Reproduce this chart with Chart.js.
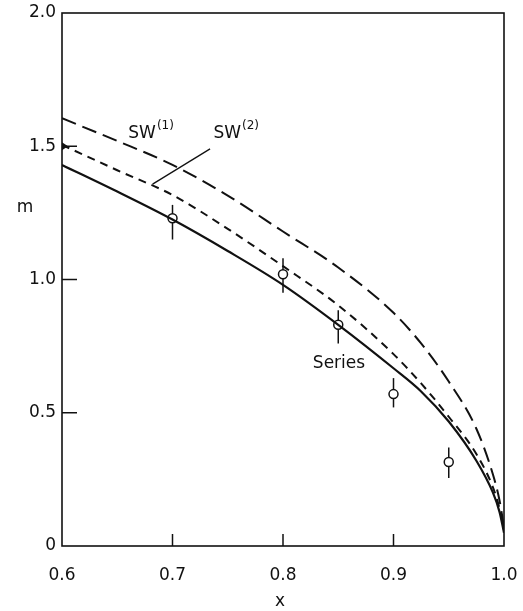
<!DOCTYPE html>
<html>
<head>
<meta charset="utf-8">
<script src="https://cdn.jsdelivr.net/npm/chart.js@4.4.0/dist/chart.umd.min.js"></script>
<style>
  html, body { margin: 0; padding: 0; background: #fff; }
  #wrap { width: 523px; height: 611px; }
</style>
</head>
<body>
<div id="wrap"><canvas id="chart" width="523" height="611"></canvas></div>
<script>
// curves
const xCurve = [0.6, 0.65, 0.7, 0.75, 0.8, 0.85, 0.9, 0.925, 0.95, 0.975, 0.99, 0.996, 1.0];
const seriesM = [1.43, 1.33, 1.225, 1.107, 0.98, 0.83, 0.667, 0.58, 0.467, 0.32, 0.20, 0.127, 0.05];
const sw1M = [1.605, 1.52, 1.43, 1.315, 1.18, 1.045, 0.875, 0.76, 0.617, 0.44, 0.268, 0.17, 0.07];
const sw2M = [1.505, 1.41, 1.317, 1.19, 1.05, 0.903, 0.72, 0.61, 0.485, 0.345, 0.22, 0.14, 0.06];

// data points with error bars
const xPoints = [0.7, 0.8, 0.85, 0.9, 0.95];
const mPoints = [1.23, 1.02, 0.83, 0.57, 0.315];
const errLow = [1.15, 0.95, 0.76, 0.52, 0.255];
const errHigh = [1.28, 1.08, 0.885, 0.63, 0.37];

const xTicks = [0.6, 0.7, 0.8, 0.9, 1.0];
const yTicks = [0, 0.5, 1.0, 1.5, 2.0];

const FONT = '"DejaVu Sans", sans-serif';

function toXY(xs, ys) {
  return xs.map((x, i) => ({ x: x, y: ys[i] }));
}

const decorations = {
  id: "decorations",
  beforeDatasetsDraw(chart) {
    const ctx = chart.ctx;
    const xs = chart.scales.x, ys = chart.scales.y;
    ctx.save();
    ctx.strokeStyle = "#111";
    ctx.lineWidth = 1.5;
    xPoints.forEach((x, i) => {
      const px = xs.getPixelForValue(x);
      ctx.beginPath();
      ctx.moveTo(px, ys.getPixelForValue(errLow[i]));
      ctx.lineTo(px, ys.getPixelForValue(errHigh[i]));
      ctx.stroke();
    });
    ctx.restore();
  },
  afterDatasetsDraw(chart) {
    const ctx = chart.ctx;
    const a = chart.chartArea;
    const xs = chart.scales.x, ys = chart.scales.y;
    ctx.save();
    ctx.strokeStyle = "#111";
    ctx.lineWidth = 1.6;
    ctx.strokeRect(a.left, a.top, a.right - a.left, a.bottom - a.top);

    // inward ticks
    ctx.lineWidth = 1.5;
    xTicks.slice(1, -1).forEach(v => {
      const px = xs.getPixelForValue(v);
      ctx.beginPath();
      ctx.moveTo(px, a.bottom);
      ctx.lineTo(px, a.bottom - 12);
      ctx.stroke();
    });
    yTicks.slice(1, -1).forEach(v => {
      const py = ys.getPixelForValue(v);
      ctx.beginPath();
      ctx.moveTo(a.left, py);
      ctx.lineTo(a.left + 15, py);
      ctx.stroke();
    });
    // small marker at 1.5 on the axis
    const my = ys.getPixelForValue(1.5);
    ctx.fillStyle = "#111";
    ctx.beginPath();
    ctx.moveTo(a.left, my - 4);
    ctx.lineTo(a.left + 6, my);
    ctx.lineTo(a.left, my + 4);
    ctx.closePath();
    ctx.fill();

    // leader line for SW(2)
    ctx.lineWidth = 1.3;
    ctx.beginPath();
    ctx.moveTo(xs.getPixelForValue(0.682), ys.getPixelForValue(1.358));
    ctx.lineTo(xs.getPixelForValue(0.734), ys.getPixelForValue(1.49));
    ctx.stroke();

    // labels
    ctx.fillStyle = "#111";
    ctx.textBaseline = "alphabetic";
    ctx.textAlign = "left";
    function swLabel(x, m, sup) {
      const px = xs.getPixelForValue(x), py = ys.getPixelForValue(m);
      ctx.font = "17px " + FONT;
      ctx.fillText("SW", px, py);
      const w = ctx.measureText("SW").width;
      ctx.font = "12px " + FONT;
      ctx.fillText(sup, px + w + 1, py - 9);
    }
    swLabel(0.66, 1.53, "(1)");
    swLabel(0.737, 1.53, "(2)");
    ctx.font = "17px " + FONT;
    ctx.fillText("Series", xs.getPixelForValue(0.827), ys.getPixelForValue(0.668));

    // axis titles
    ctx.textAlign = "center";
    ctx.fillText("m", 25, 212);
    ctx.fillText("x", 280, 606);
    ctx.restore();
  }
};

new Chart(document.getElementById("chart"), {
  type: "scatter",
  data: {
    datasets: [
      {
        label: "Series",
        data: toXY(xCurve, seriesM),
        showLine: true,
        borderColor: "#111",
        borderWidth: 2.2,
        pointRadius: 0,
        cubicInterpolationMode: "monotone"
      },
      {
        label: "SW(1)",
        data: toXY(xCurve, sw1M),
        showLine: true,
        borderColor: "#111",
        borderWidth: 2,
        borderDash: [15, 7],
        pointRadius: 0,
        cubicInterpolationMode: "monotone"
      },
      {
        label: "SW(2)",
        data: toXY(xCurve, sw2M),
        showLine: true,
        borderColor: "#111",
        borderWidth: 2,
        borderDash: [8, 6],
        pointRadius: 0,
        cubicInterpolationMode: "monotone"
      },
      {
        label: "data",
        data: toXY(xPoints, mPoints),
        showLine: false,
        pointRadius: 4.5,
        pointBorderWidth: 1.5,
        pointBorderColor: "#111",
        pointBackgroundColor: "#fff"
      }
    ]
  },
  options: {
    responsive: false,
    animation: false,
    devicePixelRatio: 1,
    layout: { padding: { top: 13, right: 19, left: 0, bottom: 0 } },
    plugins: { legend: { display: false }, tooltip: { enabled: false } },
    scales: {
      x: {
        type: "linear",
        min: 0.6,
        max: 1.0,
        afterBuildTicks: s => { s.ticks = xTicks.map(v => ({ value: v })); },
        afterFit: s => { s.height = 65; s.paddingLeft = 0; s.paddingRight = 0; },
        grid: { display: false, drawTicks: false },
        border: { display: false },
        ticks: {
          color: "#111",
          padding: 19,
          font: { family: FONT, size: 17 },
          callback: v => v.toFixed(1)
        }
      },
      y: {
        type: "linear",
        min: 0,
        max: 2.0,
        afterBuildTicks: s => { s.ticks = yTicks.map(v => ({ value: v })); },
        afterFit: s => { s.width = 62; s.paddingTop = 0; s.paddingBottom = 0; },
        grid: { display: false, drawTicks: false },
        border: { display: false },
        ticks: {
          color: "#111",
          padding: 6,
          font: { family: FONT, size: 17 },
          callback: v => v === 0 ? "0" : v.toFixed(1)
        }
      }
    }
  },
  plugins: [decorations]
});
</script>
</body>
</html>
